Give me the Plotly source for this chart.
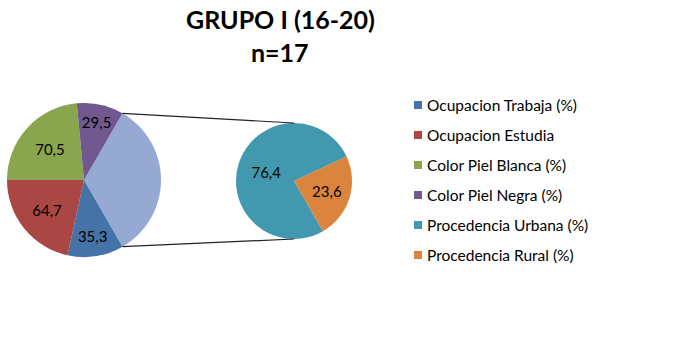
import math
import plotly.graph_objects as go

# ---- data ----
main_labels = ["Ocupacion Trabaja (%)", "Ocupacion Estudia", "Color Piel Blanca (%)", "Color Piel Negra (%)"]
main_values = [35.3, 64.7, 70.5, 29.5]
sub_labels = ["Procedencia Urbana (%)", "Procedencia Rural (%)"]
sub_values = [76.4, 23.6]
title_lines = ["GRUPO I (16-20)", "n=17"]

main_colors = ["#4572A7", "#AA4643", "#89A54E", "#71588F"]
sub_colors = ["#4198AF", "#DB843D"]
other_color = "#95A9D3"

W, H = 676, 362
FONT = "Lato"

other_value = sum(sub_values)
fmt = lambda v: f"{v:.1f}".replace(".", ",")

def px(x):
    return x / W

def py(y):
    return 1 - y / H

# pie geometry (pixels)
L_cx, L_cy, L_r = 84, 180, 77
R_cx, R_cy, R_r = 294, 181, 58

def dom(cx, cy, r):
    return dict(x=[px(cx - r), px(cx + r)], y=[py(cy + r), py(cy - r)])

fig = go.Figure()

total = sum(main_values) + other_value
other_deg = other_value / total * 360
fig.add_trace(go.Pie(
    labels=["Other"] + main_labels,
    values=[other_value] + main_values,
    text=[""] + [fmt(v) for v in main_values],
    textinfo="text",
    textposition="inside",
    insidetextorientation="horizontal",
    marker=dict(colors=[other_color] + main_colors, line=dict(width=0)),
    sort=False, direction="clockwise",
    rotation=90 - other_deg / 2,
    domain=dom(L_cx, L_cy, L_r),
    showlegend=False, hoverinfo="label+value",
    textfont=dict(family=FONT, size=15, color="black"),
))

fig.add_trace(go.Pie(
    labels=sub_labels,
    values=sub_values,
    text=[fmt(v) for v in sub_values],
    textinfo="text",
    textposition="inside",
    insidetextorientation="horizontal",
    marker=dict(colors=sub_colors, line=dict(width=0)),
    sort=False, direction="clockwise",
    rotation=150,
    domain=dom(R_cx, R_cy, R_r),
    showlegend=False, hoverinfo="label+value",
    textfont=dict(family=FONT, size=15, color="black"),
))

# connector lines computed from the "other" slice edges
half = math.radians(other_deg / 2)
p_top = (L_cx + L_r * math.cos(half), L_cy - L_r * math.sin(half))
p_bot = (L_cx + L_r * math.cos(half), L_cy + L_r * math.sin(half))
shapes = []
for (x0, y0), (x1, y1) in [(p_top, (R_cx, R_cy - R_r)), (p_bot, (R_cx, R_cy + R_r))]:
    shapes.append(dict(type="line", xref="paper", yref="paper",
                       x0=px(x0), y0=py(y0), x1=px(x1), y1=py(y1),
                       line=dict(color="#222222", width=1.2)))

# manual legend
annotations = []
leg_x, leg_y0, leg_dy = 414, 105, 30
for i, (lab, col) in enumerate(zip(main_labels + sub_labels, main_colors + sub_colors)):
    y = leg_y0 + i * leg_dy
    shapes.append(dict(type="rect", xref="paper", yref="paper",
                       x0=px(leg_x), x1=px(leg_x + 8),
                       y0=py(y + 4), y1=py(y - 4),
                       fillcolor=col, line=dict(width=0)))
    annotations.append(dict(text=lab, xref="paper", yref="paper",
                            x=px(leg_x + 11), y=py(y),
                            xanchor="left", yanchor="middle", showarrow=False,
                            font=dict(family=FONT, size=15.5, color="black")))

for line, ty in zip(title_lines, [19, 52]):
    annotations.append(dict(text="<b>" + line + "</b>",
                            xref="paper", yref="paper", x=px(280), y=py(ty),
                            xanchor="center", yanchor="middle", showarrow=False,
                            font=dict(family=FONT, size=25, color="black")))

fig.update_layout(
    width=W, height=H,
    margin=dict(l=0, r=0, t=0, b=0),
    paper_bgcolor="white", plot_bgcolor="white",
    shapes=shapes, annotations=annotations,
)

fig.write_html("out.html", config={"displayModeBar": False},
               post_script="document.body.style.margin='0';")
